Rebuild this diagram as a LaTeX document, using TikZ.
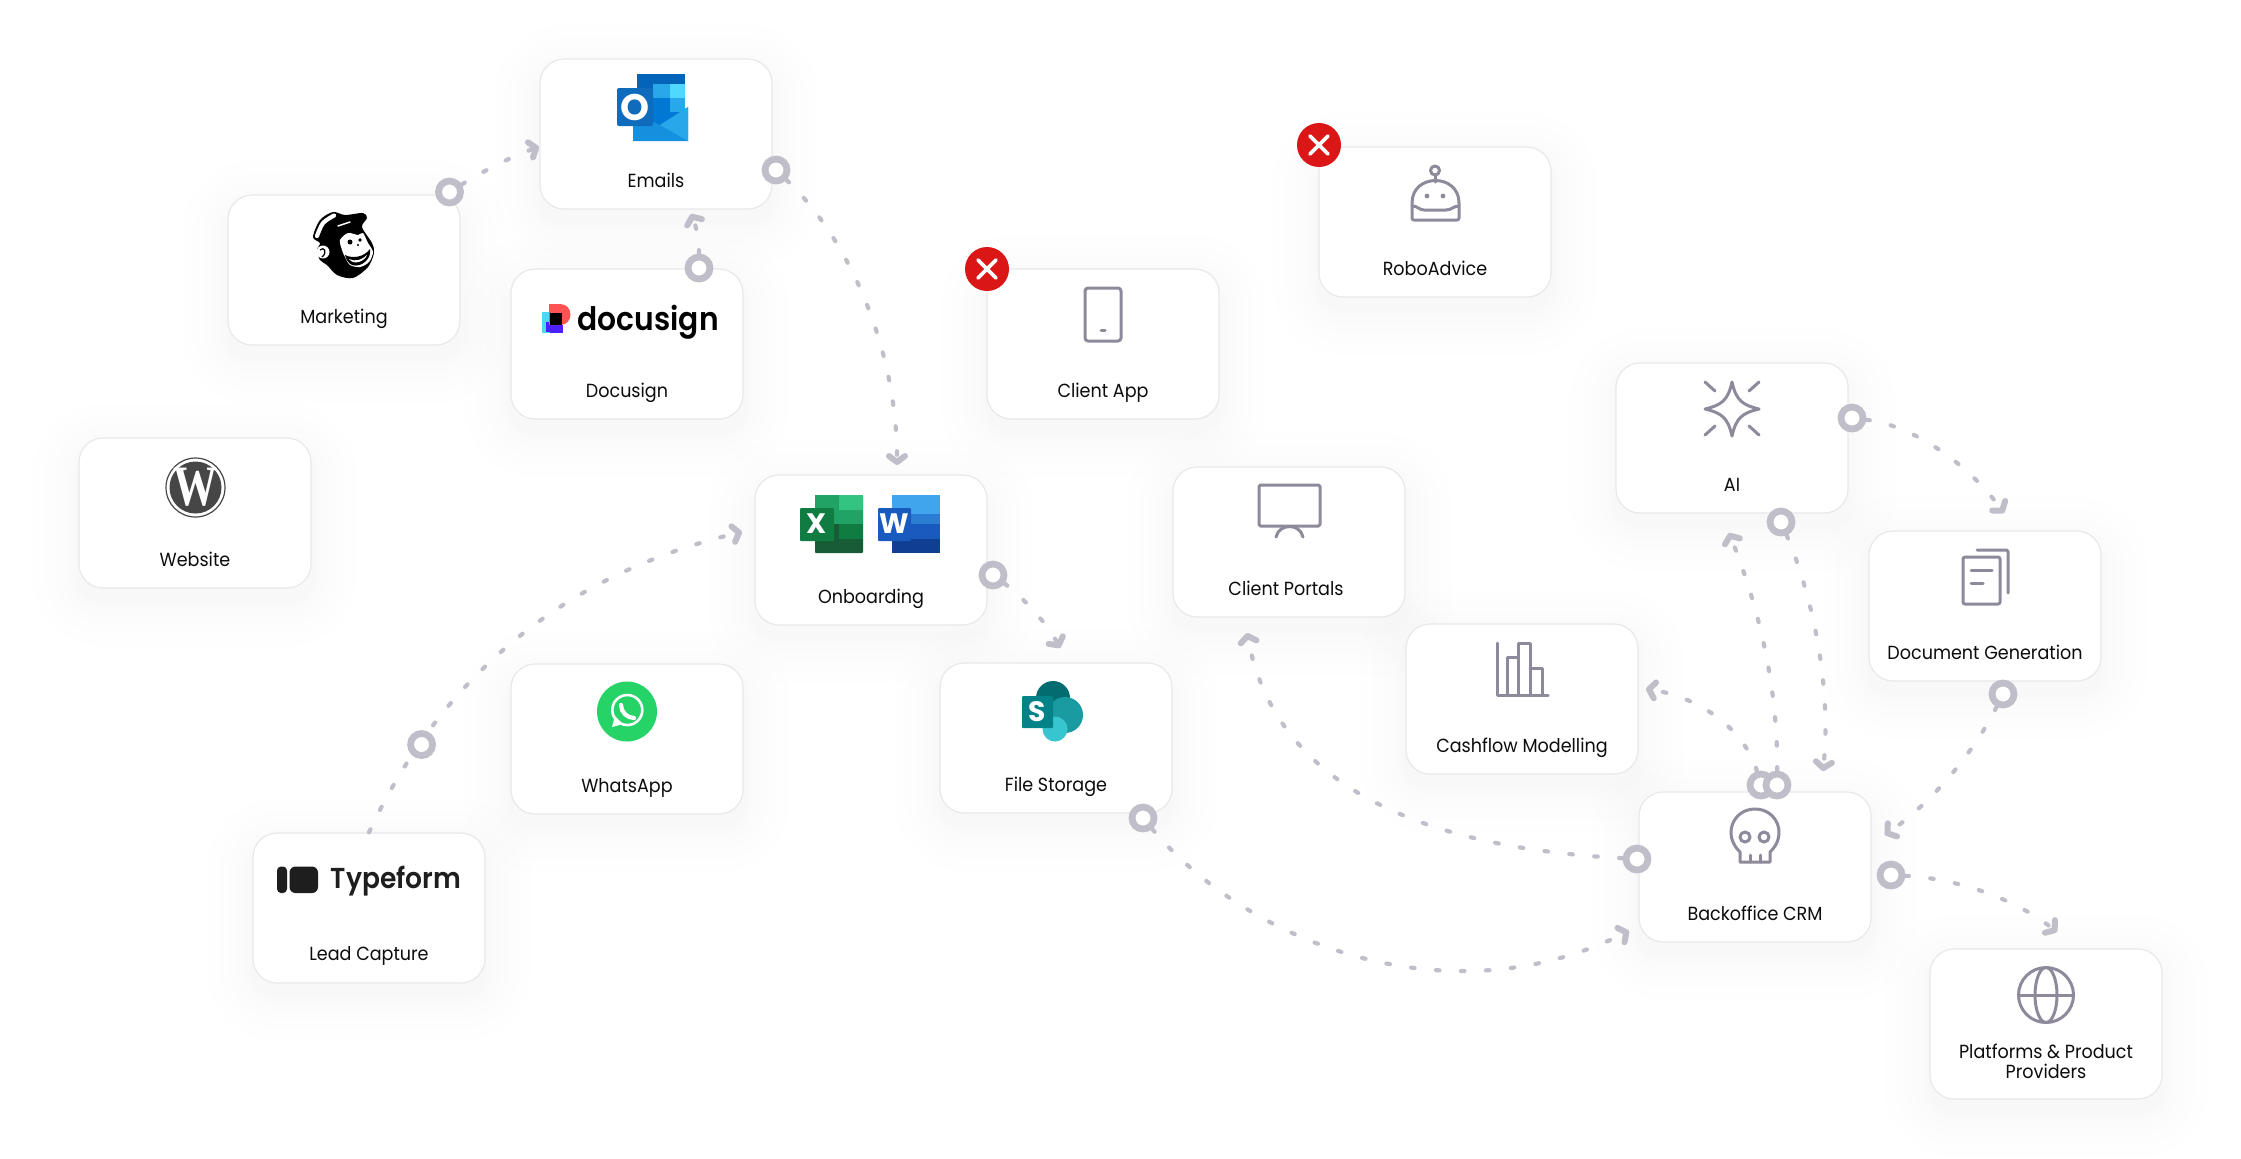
\documentclass[tikz,border=0pt]{standalone}
\usepackage{fontspec}
\usepackage{xcolor}
\usetikzlibrary{arrows.meta}
\setmainfont[FakeStretch=0.925]{Poppins}
\newfontfamily\logofont[FakeStretch=0.92]{Poppins SemiBold}
\newfontfamily\letterfont{Poppins}
\newfontfamily\wpfont{Liberation Serif}
\definecolor{linkgrey}{HTML}{C0BFC9}
\definecolor{icongrey}{HTML}{8E8A9B}
\definecolor{cardedge}{HTML}{E8E8ED}
\definecolor{stopred}{HTML}{DB1616}
\definecolor{inkblack}{HTML}{0C0C0C}
\definecolor{outlookdeep}{HTML}{0364B8}
\definecolor{outlookmid}{HTML}{0078D4}
\definecolor{outlooksky}{HTML}{28A8EA}
\definecolor{outlookpale}{HTML}{50D9FF}
\definecolor{outlookmail}{HTML}{1490DF}
\definecolor{outlookfront}{HTML}{0F6CBD}
\definecolor{signblue}{HTML}{4C1FFF}
\definecolor{signcyan}{HTML}{4FD6F5}
\definecolor{signred}{HTML}{FF5252}
\definecolor{wpgrey}{HTML}{464646}
\definecolor{chatgreen}{HTML}{25D366}
\definecolor{formblack}{HTML}{1E1E1E}
\definecolor{exceldeep}{HTML}{185C37}
\definecolor{excelmid}{HTML}{21A366}
\definecolor{excelpale}{HTML}{33C481}
\definecolor{excelfront}{HTML}{107C41}
\definecolor{wordpale}{HTML}{41A5EE}
\definecolor{wordmid}{HTML}{2B7CD3}
\definecolor{wordfront}{HTML}{185ABD}
\definecolor{worddeep}{HTML}{103F91}
\definecolor{sharedeep}{HTML}{036C70}
\definecolor{sharemid}{HTML}{1A9BA1}
\definecolor{sharepale}{HTML}{37C6D0}
\definecolor{sharefront}{HTML}{038387}
\newcommand{\labelsize}{\fontsize{5.4}{5.7}\selectfont}
\tikzset{
    card/.style={draw=cardedge, fill=white, line width=0.12mm, rounded corners=2.4mm, minimum width=23.2mm, minimum height=15mm, inner sep=0pt},
    cardtext/.style={text=inkblack, font=\labelsize, align=center, inner sep=0pt, anchor=base},
    ring/.style={circle, draw=linkgrey, fill=white, line width=0.68mm, minimum size=2.2mm, inner sep=0pt},
    link/.style={draw=linkgrey, line width=0.42mm, line cap=round, dash pattern=on 0.35mm off 2.15mm, -{Straight Barb[length=0.6mm, width=1.6mm, line width=0.6mm, round]}},
    stopbadge/.style={circle, fill=stopred, minimum size=4.4mm, inner sep=0pt},
    stopcross/.style={white, line width=0.38mm, line cap=round},
    icon/.style={draw=icongrey, line width=0.3mm, line cap=round, line join=round},
    logotext/.style={text=white, font=\letterfont\bfseries, inner sep=0pt}
}
\begin{document}
\begin{tikzpicture}[x=0.1mm, y=-0.1mm]
    \useasboundingbox (0,0) rectangle (2241,1158);
    \fill [white] (0,0) rectangle (2241,1158);
    % soft halo under the cards
    \foreach \cx/\cy in {344/270, 656/134, 627/344, 195/513, 627/739, 369/908, 871/550, 1056/738, 1103/344, 1435/222, 1289/542, 1522/699, 1732/438, 1985/606, 1755/867, 2046/1024} {
        \foreach \grow in {2,6,10,16,24,34,46} {
            \fill [black!70!blue, opacity=0.0045, rounded corners={\grow*0.1mm+2.4mm}] (\cx-116-\grow,\cy-75-\grow+12) rectangle (\cx+116+\grow,\cy+75+\grow+12);
        }
    }
    % cards
    \node (marketing) [card] at (344,270) {};
    \node (emails) [card] at (656,134) {};
    \node (docusign) [card] at (627,344) {};
    \node (website) [card] at (195,513) {};
    \node (whatsapp) [card] at (627,739) {};
    \node (lead) [card] at (369,908) {};
    \node (onboarding) [card] at (871,550) {};
    \node (filestorage) [card] at (1056,738) {};
    \node (clientapp) [card] at (1103,344) {};
    \node (robo) [card] at (1435,222) {};
    \node (portals) [card] at (1289,542) {};
    \node (cashflow) [card] at (1522,699) {};
    \node (ai) [card] at (1732,438) {};
    \node (docgen) [card] at (1985,606) {};
    \node (crm) [card] at (1755,867) {};
    \node (platforms) [card] at (2046,1024) {};
    % labels
    \node (marketingtext) [cardtext] at (344,323) {Marketing};
    \node (emailstext) [cardtext] at (656,187) {Emails};
    \node (docusigntext) [cardtext] at (627,397.5) {Docusign};
    \node (websitetext) [cardtext] at (195,566) {Website};
    \node (whatsapptext) [cardtext] at (627,792) {WhatsApp};
    \node (leadtext) [cardtext] at (369,960) {Lead Capture};
    \node (onboardingtext) [cardtext] at (871,603.5) {Onboarding};
    \node (filestoragetext) [cardtext] at (1056,791) {File Storage};
    \node (clientapptext) [cardtext] at (1103,397.5) {Client App};
    \node (robotext) [cardtext] at (1435,275) {RoboAdvice};
    \node (portalstext) [cardtext] at (1286,595.5) {Client Portals};
    \node (cashflowtext) [cardtext] at (1522,752) {Cashflow Modelling};
    \node (aitext) [cardtext] at (1732,491) {AI};
    \node (docgentext) [cardtext] at (1985,659.5) {Document Generation};
    \node (crmtext) [cardtext] at (1755,920) {Backoffice CRM};
    \node (platformstext) [cardtext, anchor=center] at (2046,1061.5) {Platforms \& Product\\Providers};
    % outlook
    \fill [outlookdeep] (637,74) rectangle (685,84);
    \fill [outlookdeep] (637,84) rectangle (653,98);
    \fill [outlookmid] (637,98) rectangle (685,125);
    \fill [outlooksky] (653,84) rectangle (670,98);
    \fill [outlookpale] (670,84) rectangle (685,98);
    \fill [outlooksky] (670,98) rectangle (685,112);
    \fill [outlookmail] (633,112) -- (660,125) -- (688,107) -- (688,141) -- (633,141) -- cycle;
    \fill [outlooksky] (688,107) -- (660,125) -- (688,141) -- cycle;
    \fill [outlookfront, rounded corners=0.2mm] (617,88) rectangle (653,126);
    \node (outlookletter) [logotext] at (635,107) {\fontsize{10.5}{10.5}\selectfont O};
    % mailchimp
    \fill [black] plot [smooth cycle] coordinates {(313,237) (320,220) (333,212) (345,215) (363,213) (367,218) (362,227) (372,243) (374,253) (368,267) (353,278) (337,275) (327,265) (320,260) (317,250) (320,243)};
    \draw [white, line width=0.42mm, line cap=round] plot [smooth] coordinates {(317,236) (323,223) (334,215.5)};
    \draw [white, line width=0.15mm, line cap=round] (338,226) -- (350,222);
    \fill [white] (323,252) circle (6.5);
    \draw [black, line width=0.12mm] (320,250) .. controls (324,246) and (328,252) .. (322,257);
    \fill [white] plot [smooth cycle] coordinates {(340,240) (348,233) (358,235) (363,233) (368,243) (373,252) (369,262) (360,267) (350,265) (345,257) (342,250)};
    \fill [black] (350,242) circle (2.5);
    \fill [black] (360,240) circle (1.8);
    \fill [black] (358,245) circle (1.2);
    \fill [black] (345,255) .. controls (353,259) and (364,257) .. (370,249) .. controls (372,258) and (362,268) .. (352,265) .. controls (348,263) and (346,259) .. (345,255) -- cycle;
    \fill [white] (349,259) .. controls (355,262) and (362,260) .. (367,255) .. controls (365,261) and (354,266) .. (349,259) -- cycle;
    % docusign
    \fill [signcyan] (542,312) rectangle (550,333);
    \fill [signblue] (550,325) rectangle (563,333);
    \fill [signblue] (546,322) rectangle (550,332);
    \fill [signred] (549,304) -- (560,304) .. controls (574,304) and (574,325) .. (560,325) -- (549,325) -- cycle;
    \fill [black] (550,313) rectangle (562,325);
    \node (docusignlogo) [text=black, font=\logofont, inner sep=0pt, anchor=base west] at (577,330.5) {\fontsize{9.2}{9.2}\selectfont docusign};
    % wordpress
    \draw [wpgrey, line width=0.12mm] (195.5,487.5) circle (29.5);
    \fill [wpgrey] (195.5,487.5) circle (26);
    \node (wpletter) [text=white, inner sep=0pt, font=\wpfont\bfseries] at (195.5,487.5) {\fontsize{12.5}{12.5}\selectfont\scalebox{1}[1.3]{W}};
    % whatsapp
    \fill [chatgreen] (627,711.5) circle (30);
    \draw [white, line width=0.26mm] (627.3,710) circle (15);
    \fill [white] (615,716) -- (612,727) -- (623,724) -- cycle;
    \draw [white, line width=0.42mm, line cap=round] (621,705) .. controls (621,712) and (627,718) .. (634,718);
    % typeform
    \fill [formblack, rounded corners=0.4mm] (277,866.5) rectangle (287,893);
    \fill [formblack, rounded corners=0.6mm] (289.5,866.5) rectangle (318,893);
    \node (typeformlogo) [text=formblack, font=\logofont, inner sep=0pt, anchor=base west] at (330,888) {\fontsize{8.2}{8.2}\selectfont Typeform};
    % excel
    \fill [exceldeep, rounded corners=0.1mm] (815,495) rectangle (863,553);
    \fill [excelmid] (815,495) rectangle (839,524);
    \fill [excelpale] (839,495) rectangle (863,510);
    \fill [excelmid] (839,510) rectangle (863,524);
    \fill [excelfront] (839,524) rectangle (863,539);
    \fill [excelfront, rounded corners=0.1mm] (800,508) rectangle (834,541);
    \node (excelletter) [logotext] at (817,524) {\fontsize{8}{8}\selectfont X};
    % word
    \fill [wordpale] (892,495) rectangle (940,514);
    \fill [wordmid] (892,514) rectangle (940,524);
    \fill [wordfront] (892,524) rectangle (940,539);
    \fill [worddeep] (892,539) rectangle (940,553);
    \fill [wordfront, rounded corners=0.1mm] (878,508) rectangle (911,541);
    \node (wordletter) [logotext] at (894.5,524) {\fontsize{8}{8}\selectfont W};
    % sharepoint
    \fill [sharedeep] (1053,698) circle (17);
    \fill [sharemid] (1065,715) circle (18);
    \fill [sharepale] (1055,729) circle (12.5);
    \fill [sharefront, rounded corners=0.1mm] (1022,696) rectangle (1053,728);
    \node (sharepointletter) [logotext] at (1037.5,712) {\fontsize{8}{8}\selectfont S};
    % phone
    \draw [icon, rounded corners=0.3mm] (1085,288) rectangle (1121,341);
    \draw [icon] (1101,330) -- (1105,330);
    % robot
    \draw [icon] (1435,170.5) circle (4.5);
    \draw [icon] (1435,175) -- (1435,182);
    \draw [icon, rounded corners=0.2mm] (1412,220) -- (1412,205) .. controls (1412,173) and (1459,173) .. (1459,205) -- (1459,220) -- cycle;
    \draw [icon] (1412,206) .. controls (1418,206) and (1419,210) .. (1424,210) -- (1446,210) .. controls (1452,210) and (1453,206) .. (1459,206);
    \fill [icongrey] (1427,196) circle (2.4);
    \fill [icongrey] (1443,196) circle (2.4);
    % monitor
    \draw [icon, rounded corners=0.15mm] (1259,485) rectangle (1320,526);
    \draw [icon] (1276,537) .. controls (1279,523) and (1300,523) .. (1303,537);
    % chart
    \draw [icon] (1497,643) -- (1497,695) -- (1548,695);
    \draw [icon] (1507,695) -- (1507,657) -- (1518,657) -- (1518,695);
    \draw [icon] (1518,657) -- (1518,643) -- (1530,643) -- (1530,695);
    \draw [icon] (1530,668) -- (1542,668) -- (1542,695);
    % sparkle
    \draw [icon] (1732,382) .. controls (1736,400) and (1742,405) .. (1759,409) .. controls (1742,413) and (1736,418) .. (1732,436) .. controls (1728,418) and (1722,413) .. (1705,409) .. controls (1722,405) and (1728,400) .. (1732,382) -- cycle;
    \draw [icon] (1705,382) -- (1715,391);
    \draw [icon] (1759,382) -- (1749,391);
    \draw [icon] (1705,435) -- (1715,426);
    \draw [icon] (1759,435) -- (1749,426);
    % documents
    \draw [icon, rounded corners=0.2mm] (1963,557) rectangle (2000,604);
    \draw [icon, rounded corners=0.15mm] (1977,550) -- (2008,550) -- (2008,593);
    \draw [icon] (1971,570) -- (1992,570);
    \draw [icon] (1971,583) -- (1983,583);
    % skull
    \draw [icon] (1740,862) -- (1740,852) .. controls (1722,835) and (1733,809) .. (1755,809) .. controls (1777,809) and (1788,835) .. (1770,852) -- (1770,862) -- cycle;
    \draw [icon] (1745,837) circle (5);
    \draw [icon] (1764,837) circle (5);
    \draw [icon] (1750,855) -- (1750,862);
    \draw [icon] (1760,855) -- (1760,862);
    % globe
    \draw [icon] (2046,995) circle (27.5);
    \draw [icon] (2046,995) ellipse (11 and 27.5);
    \draw [icon] (2018.5,995) -- (2073.5,995);
    % arrow ends
    \coordinate (tipemailsleft) at (539,147);
    \coordinate (tipemailsbelow) at (691,214);
    \coordinate (tiponboardingtop) at (897,465);
    \coordinate (tiponboardingleft) at (742,532);
    \coordinate (tipfilestorage) at (1060,648);
    \coordinate (tipcrmleft) at (1629,931);
    \coordinate (tipportals) at (1247,633);
    \coordinate (tipcashflow) at (1646,689);
    \coordinate (tipai) at (1729,533);
    \coordinate (tipcrmtop) at (1823,771);
    \coordinate (tipdocgen) at (2004,513);
    \coordinate (tipcrmright) at (1885,835);
    \coordinate (tipplatforms) at (2057,932);
    % this one runs under its ring
    \draw [link] (lead.north) .. controls (440,680) and (560,575) .. (tiponboardingleft);
    % rings
    \node (leadring) [ring] at (421.6,744.5) {};
    \node (marketingring) [ring] at (449.5,192) {};
    \node (emailsring) [ring] at (776,170) {};
    \node (docusignring) [ring] at (699,268) {};
    \node (onboardingring) [ring] at (993,575) {};
    \node (filestoragering) [ring] at (1143,818) {};
    \node (airightring) [ring] at (1852,418) {};
    \node (aibottomring) [ring] at (1781,522) {};
    \node (docgenring) [ring] at (2003,694) {};
    \node (crmtopleftring) [ring] at (1761,785) {};
    \node (crmtopring) [ring] at (1777,785) {};
    \node (crmleftring) [ring] at (1637,859) {};
    \node (crmrightring) [ring] at (1891,875) {};
    % connectors
    \draw [link] (marketingring) .. controls (485,170) and (515,155) .. (tipemailsleft);
    \draw [link] (docusignring) .. controls (699,245) and (697,228) .. (tipemailsbelow);
    \draw [link] (emailsring) .. controls (850,240) and (897,350) .. (tiponboardingtop);
    \draw [link] (onboardingring) .. controls (1020,595) and (1045,620) .. (tipfilestorage);
    \draw [link] (filestoragering) .. controls (1250,945) and (1450,1020) .. (tipcrmleft);
    \draw [link] (crmleftring) .. controls (1470,850) and (1280,810) .. (tipportals);
    \draw [link] (crmtopleftring) .. controls (1745,730) and (1700,697) .. (tipcashflow);
    \draw [link] (crmtopring) .. controls (1778,690) and (1760,610) .. (tipai);
    \draw [link] (aibottomring) .. controls (1810,590) and (1832,680) .. (tipcrmtop);
    \draw [link] (airightring) .. controls (1910,425) and (1965,460) .. (tipdocgen);
    \draw [link] (docgenring) .. controls (1975,750) and (1935,800) .. (tipcrmright);
    \draw [link] (crmrightring) .. controls (1950,878) and (2010,895) .. (tipplatforms);
    % stop badges
    \node (clientappstop) [stopbadge] at (987,269) {};
    \draw [stopcross] (978,260) -- (996,278);
    \draw [stopcross] (996,260) -- (978,278);
    \node (robostop) [stopbadge] at (1319,145) {};
    \draw [stopcross] (1310,136) -- (1328,154);
    \draw [stopcross] (1328,136) -- (1310,154);
\end{tikzpicture}
\end{document}
